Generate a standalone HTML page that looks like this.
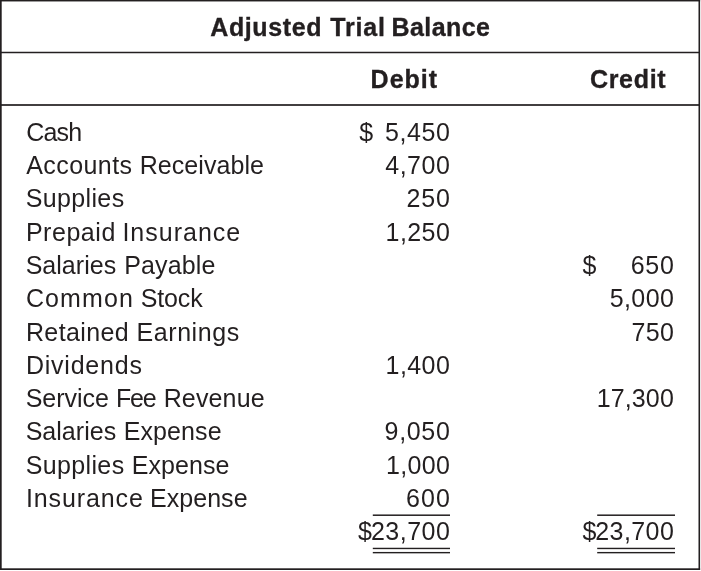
<!DOCTYPE html>
<html lang="en"><head><meta charset="utf-8"><title>Adjusted Trial Balance</title>
<style>
html,body{margin:0;padding:0;background:#fff;}
body{width:701px;height:571px;position:relative;overflow:hidden;font-family:"Liberation Sans",sans-serif;color:#231f20;}
.lines{position:absolute;left:0;top:0;}
.t{position:absolute;white-space:pre;font-size:25px;line-height:30px;height:30px;}
.b{font-weight:bold;-webkit-text-stroke:0.35px #231f20;}
.s{display:inline-block;letter-spacing:0;}
</style></head><body>
<svg class="lines" width="701" height="571" viewBox="0 0 701 571" fill="#231f20">
<rect x="0" y="0" width="700.1" height="1.45"/>
<rect x="0" y="0" width="1.7" height="570"/>
<rect x="698.5" y="0" width="1.6" height="570"/>
<rect x="0" y="568.3" width="700.1" height="1.7"/>
<rect x="0" y="51.75" width="700" height="1.5"/>
<rect x="0" y="104.15" width="700" height="1.7"/>
<rect x="372.8" y="514.45" width="77.2" height="1.5"/>
<rect x="372.8" y="547.75" width="77.2" height="1.4"/>
<rect x="372.8" y="551.95" width="77.2" height="1.4"/>
<rect x="597.2" y="514.45" width="77.8" height="1.5"/>
<rect x="597.2" y="547.75" width="77.8" height="1.4"/>
<rect x="597.2" y="551.95" width="77.8" height="1.4"/>
</svg>
<div role="table" aria-label="Adjusted Trial Balance">
<div role="row">
<div class="t b" role="cell" style="left:210.28px;top:12px"><span style="letter-spacing:0.61px">Adjusted</span><span class="s" style="width:8.17px"> </span><span style="letter-spacing:0.83px">Trial</span><span class="s" style="width:5.72px"> </span><span style="letter-spacing:0.42px">Balance</span></div>
</div>
<div role="row">
<div class="t b" role="cell" style="left:370.57px;top:64px"><span style="letter-spacing:1.02px">Debit</span></div>
<div class="t b" role="cell" style="left:589.92px;top:64px"><span style="letter-spacing:0.70px">Credit</span></div>
</div>
<div role="row">
<div class="t" role="cell" style="left:26.20px;top:117px"><span style="letter-spacing:-0.84px">Cash</span></div>
<div class="t" role="cell" style="left:359.25px;top:117px">$</div>
<div class="t" role="cell" style="left:385.00px;top:117px;letter-spacing:0.57px">5,450</div>
</div>
<div role="row">
<div class="t" role="cell" style="left:26.15px;top:150px"><span style="letter-spacing:0.45px">Accounts</span><span class="s" style="width:7.05px"> </span><span style="letter-spacing:0.08px">Receivable</span></div>
<div class="t" role="cell" style="left:385.25px;top:150px;letter-spacing:0.51px">4,700</div>
</div>
<div role="row">
<div class="t" role="cell" style="left:25.65px;top:183px"><span style="letter-spacing:0.37px">Supplies</span></div>
<div class="t" role="cell" style="left:406.50px;top:183px;letter-spacing:0.81px">250</div>
</div>
<div role="row">
<div class="t" role="cell" style="left:25.90px;top:217px"><span style="letter-spacing:0.54px">Prepaid</span><span class="s" style="width:6.56px"> </span><span style="letter-spacing:1.01px">Insurance</span></div>
<div class="t" role="cell" style="left:385.60px;top:217px;letter-spacing:0.42px">1,250</div>
</div>
<div role="row">
<div class="t" role="cell" style="left:25.65px;top:250px"><span style="letter-spacing:0.03px">Salaries</span><span class="s" style="width:7.97px"> </span><span style="letter-spacing:0.13px">Payable</span></div>
<div class="t" role="cell" style="left:582.62px;top:250px">$</div>
<div class="t" role="cell" style="left:630.75px;top:250px;letter-spacing:0.69px">650</div>
</div>
<div role="row">
<div class="t" role="cell" style="left:25.90px;top:283px"><span style="letter-spacing:1.10px">Common</span><span class="s" style="width:6.75px"> </span><span style="letter-spacing:-0.13px">Stock</span></div>
<div class="t" role="cell" style="left:609.75px;top:283px;letter-spacing:0.38px">5,000</div>
</div>
<div role="row">
<div class="t" role="cell" style="left:25.90px;top:317px"><span style="letter-spacing:0.40px">Retained</span><span class="s" style="width:7.44px"> </span><span style="letter-spacing:0.55px">Earnings</span></div>
<div class="t" role="cell" style="left:631.50px;top:317px;letter-spacing:0.31px">750</div>
</div>
<div role="row">
<div class="t" role="cell" style="left:25.90px;top:350px"><span style="letter-spacing:0.78px">Dividends</span></div>
<div class="t" role="cell" style="left:385.60px;top:350px;letter-spacing:0.42px">1,400</div>
</div>
<div role="row">
<div class="t" role="cell" style="left:25.65px;top:383px"><span style="letter-spacing:-0.03px">Service</span><span class="s" style="width:7.13px"> </span><span style="letter-spacing:-1.21px">Fee</span><span class="s" style="width:8.31px"> </span><span style="letter-spacing:0.14px">Revenue</span></div>
<div class="t" role="cell" style="left:596.70px;top:383px;letter-spacing:0.13px">17,300</div>
</div>
<div role="row">
<div class="t" role="cell" style="left:25.65px;top:416px"><span style="letter-spacing:0.03px">Salaries</span><span class="s" style="width:7.47px"> </span><span style="letter-spacing:0.10px">Expense</span></div>
<div class="t" role="cell" style="left:384.60px;top:416px;letter-spacing:0.67px">9,050</div>
</div>
<div role="row">
<div class="t" role="cell" style="left:25.65px;top:450px"><span style="letter-spacing:0.37px">Supplies</span><span class="s" style="width:7.13px"> </span><span style="letter-spacing:0.10px">Expense</span></div>
<div class="t" role="cell" style="left:386.00px;top:450px;letter-spacing:0.32px">1,000</div>
</div>
<div role="row">
<div class="t" role="cell" style="left:25.90px;top:483px"><span style="letter-spacing:0.89px">Insurance</span><span class="s" style="width:6.21px"> </span><span style="letter-spacing:0.06px">Expense</span></div>
<div class="t" role="cell" style="left:406.00px;top:483px;letter-spacing:1.06px">600</div>
</div>
<div role="row">
<div class="t" role="cell" style="left:358.12px;top:516px">$</div>
<div class="t" role="cell" style="left:371.00px;top:516px;letter-spacing:0.47px">23,700</div>
<div class="t" role="cell" style="left:582.38px;top:516px">$</div>
<div class="t" role="cell" style="left:595.25px;top:516px;letter-spacing:0.42px">23,700</div>
</div>
</div>
</body></html>
